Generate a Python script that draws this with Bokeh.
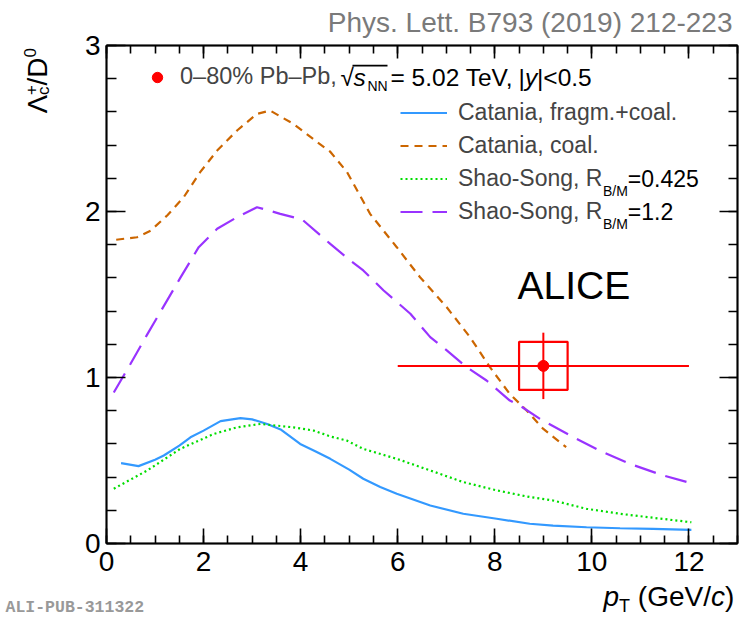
import math
from bokeh.plotting import figure
from bokeh.models import (Label, Legend, LegendItem, LinearAxis, SingleIntervalTicker,
                          BoxAnnotation, Range1d)
from bokeh.embed import file_html
from bokeh.resources import INLINE

# ---------------- data ----------------
# Catania, fragm.+coal.
cat_fc_x = [0.30, 0.66, 1.0, 1.18, 1.5, 1.73, 2.0, 2.35, 2.76, 3.0, 3.31, 3.6, 3.99, 4.3, 4.61, 5.0,
            5.29, 5.64, 5.98, 6.67, 7.35, 8.04, 8.72, 9.2, 9.89, 10.58, 11.26, 12.05]
cat_fc_y = [0.484, 0.466, 0.505, 0.53, 0.59, 0.64, 0.68, 0.737, 0.755, 0.748, 0.72, 0.685, 0.60, 0.556, 0.51, 0.445,
            0.39, 0.34, 0.30, 0.229, 0.179, 0.149, 0.119, 0.108, 0.098, 0.092, 0.088, 0.082]
# Catania, coal.
cat_c_x = [0.2, 0.63, 0.91, 1.25, 1.59, 1.93, 2.28, 2.69, 3.10, 3.37, 3.85, 4.34, 4.61, 4.95,
           5.43, 5.98, 6.46, 7.01, 7.49, 7.90, 8.31, 8.66, 9.0, 9.47]
cat_c_y = [1.83, 1.845, 1.885, 1.976, 2.086, 2.237, 2.367, 2.488, 2.588, 2.608, 2.528, 2.418, 2.36, 2.24,
           1.986, 1.785, 1.604, 1.423, 1.243, 1.062, 0.90, 0.80, 0.69, 0.58]
# Shao-Song, R_B/M = 0.425
ss1_x = [0.15, 0.84, 1.52, 2.21, 2.69, 3.17, 3.85, 4.27, 4.61, 4.95, 5.29, 5.98, 6.67, 7.35, 8.04,
         8.72, 9.20, 9.89, 10.58, 11.26, 12.05]
ss1_y = [0.33, 0.44, 0.57, 0.66, 0.70, 0.72, 0.70, 0.68, 0.645, 0.62, 0.57, 0.51, 0.44, 0.37, 0.32,
         0.28, 0.259, 0.209, 0.179, 0.155, 0.128]
# Shao-Song, R_B/M = 1.2
ss2_x = [0.15, 0.49, 0.84, 1.18, 1.52, 1.90, 2.28, 2.69, 3.10, 3.58, 4.03, 4.61, 5.02, 5.29, 5.71,
         6.26, 6.67, 7.01, 7.42, 7.83, 8.31, 8.52, 8.93, 9.55, 10.16, 10.78, 11.47, 12.05]
ss2_y = [0.91, 1.08, 1.26, 1.43, 1.60, 1.785, 1.896, 1.966, 2.026, 1.986, 1.952, 1.805, 1.705, 1.645, 1.524,
         1.384, 1.243, 1.163, 1.062, 0.982, 0.861, 0.83, 0.751, 0.651, 0.56, 0.48, 0.41, 0.363]
# ALICE data point, 0-80% Pb-Pb
pt = [9.0]
ratio = [1.07]
pt_lo = [6.0]
pt_hi = [12.0]
stat = [0.20]
syst = [0.145]
syst_halfwidth = [0.5]

x_lim = (0, 13)
y_lim = (0, 3)
x_ticks_interval = 2
y_ticks_interval = 1

# ---------------- layout ----------------
W, H = 740, 620
FL, FR, FT, FB = 106, 737, 45, 543          # plot box in canvas pixels
FONT = "Liberation Sans"
sx = (FR - FL) / (x_lim[1] - x_lim[0])
sy = (FB - FT) / (y_lim[1] - y_lim[0])
x_range = Range1d(x_lim[0] - FL / sx, x_lim[1] + (W - FR) / sx)
y_range = Range1d(y_lim[0] - (H - FB) / sy, y_lim[1] + FT / sy)

p = figure(width=W, height=H, x_range=x_range, y_range=y_range,
           output_backend="svg", toolbar_location=None, x_axis_type=None, y_axis_type=None,
           min_border=0)
p.outline_line_color = None
p.background_fill_color = "white"
p.border_fill_color = "white"


def make_axis(side, interval, nminor, tin, tmin, loc, bounds, labels):
    ax = LinearAxis(ticker=SingleIntervalTicker(interval=interval, num_minor_ticks=nminor),
                    fixed_location=loc, bounds=bounds)
    ax.axis_line_width = 2
    ax.axis_line_color = "black"
    ax.major_tick_line_width = 1.6
    ax.minor_tick_line_width = 1.6
    ax.major_tick_out = 0
    ax.minor_tick_out = 0
    ax.major_tick_in = tin
    ax.minor_tick_in = tmin
    if labels:
        ax.major_label_text_font = FONT
        ax.major_label_text_font_size = "28px"
        ax.major_label_text_color = "black"
        ax.major_label_standoff = 6 if side == "left" else 8
    else:
        ax.major_label_text_color = None
    p.add_layout(ax, side)
    return ax


make_axis("below", x_ticks_interval, 4, 15, 8, y_lim[0], x_lim, True)
make_axis("above", x_ticks_interval, 4, 13, 8, y_lim[1], x_lim, False)
make_axis("left", y_ticks_interval, 5, 19, 10, x_lim[0], y_lim, True)
make_axis("right", y_ticks_interval, 5, 18, 9, x_lim[1], y_lim, False)

frame_box = BoxAnnotation(left=x_lim[0], right=x_lim[1], bottom=y_lim[0], top=y_lim[1],
                          fill_alpha=0, line_color="black", line_width=2, level="overlay")
p.add_layout(frame_box)

# ---------------- curves ----------------
r_blue = p.line(cat_fc_x, cat_fc_y, line_color="#3399ff", line_width=2.2)
r_orng = p.line(cat_c_x, cat_c_y, line_color="#cc6600", line_width=2.2, line_dash="8 6")
r_grn = p.line(ss1_x, ss1_y, line_color="#00dd00", line_width=2.2, line_dash="2 3")
r_pur = p.line(ss2_x, ss2_y, line_color="#9933ff", line_width=2.2, line_dash="22 10")

# ---------------- data point ----------------
RED = "#ff0000"
p.segment(x0=pt_lo, y0=ratio, x1=pt_hi, y1=ratio, line_color=RED, line_width=2)
p.segment(x0=pt, y0=[r - s for r, s in zip(ratio, stat)], x1=pt,
          y1=[r + s for r, s in zip(ratio, stat)], line_color=RED, line_width=2)
p.quad(left=[x - w for x, w in zip(pt, syst_halfwidth)], right=[x + w for x, w in zip(pt, syst_halfwidth)],
       bottom=[r - s for r, s in zip(ratio, syst)], top=[r + s for r, s in zip(ratio, syst)],
       fill_alpha=0, line_color=RED, line_width=2.2)
r_pt = p.scatter(pt, ratio, size=11, fill_color=RED, line_color=RED, marker="circle")


# ---------------- text helper (canvas px from top-left; Y = vertical middle of text) ----------------
def lab(text, X, Y, size, align="left", style="normal", angle=0.0, color="black", font=FONT):
    L = Label(x=X, y=H - Y, x_units="screen", y_units="screen", text=text,
              text_font=font, text_font_size=f"{size}px", text_align=align,
              text_baseline="middle", text_font_style=style, angle=angle,
              text_color=color)
    p.add_layout(L)
    return L


# ---------------- legends ----------------
LEG1 = 23.5
LEG1B = 24.5
LEG = 23
ROW1 = 77
leg1 = Legend(items=[LegendItem(label="0\u201380% Pb\u2013Pb,", renderers=[r_pt])],
              location=(144, H - (ROW1 + 13)), glyph_width=26, glyph_height=26, label_height=26,
              label_standoff=10, padding=0, margin=0, spacing=0,
              label_text_font=FONT, label_text_font_size=f"{LEG1}px",
              border_line_alpha=0, background_fill_alpha=0)
p.add_layout(leg1)

# rest of first legend row:  sqrt(s_NN) = 5.02 TeV, |y|<0.5
lab("\u221a", 340, ROW1, LEG1B)
lab("s", 353, ROW1, LEG1B, style="italic")
lab("NN", 367, ROW1 + 8, 14)
over = BoxAnnotation(left=352, right=387, bottom=H - 66, top=H - 64.3,
                     left_units="screen", right_units="screen", top_units="screen", bottom_units="screen",
                     fill_color="black", fill_alpha=1, line_alpha=0)
p.add_layout(over)
lab("= 5.02 TeV,", 390, ROW1, LEG1B)
lab("|", 518, ROW1, LEG1B)
lab("y", 524.5, ROW1, LEG1B, style="italic")
lab("|<0.5", 536.5, ROW1, LEG1B)

leg2 = Legend(items=[LegendItem(label="Catania, fragm.+coal.", renderers=[r_blue]),
                     LegendItem(label="Catania, coal.", renderers=[r_orng]),
                     LegendItem(label="Shao-Song, R", renderers=[r_grn]),
                     LegendItem(label="Shao-Song, R", renderers=[r_pur])],
              location=(400, H - 228), glyph_width=47, glyph_height=33, label_height=33,
              label_standoff=11, padding=0, margin=0, spacing=0,
              label_text_font=FONT, label_text_font_size=f"{LEG}px",
              border_line_alpha=0, background_fill_alpha=0)
p.add_layout(leg2)
xr = 458 + 6.281 * LEG
for yc, val in [(178.5, "=0.425"), (211.5, "=1.2")]:
    lab("B/M", xr, yc + 12, 14)
    lab(val, xr + 1.778 * 14, yc, LEG)

# ALICE
lab("ALICE", 517, 285, 39)

# journal reference
lab("Phys. Lett. B793 (2019) 212-223", 732, 22, 28, align="right", color="#7a7a7a")
# ALI-PUB id
lab("ALI-PUB-311322", 5, 607, 16.5, style="bold", color="#999999", font="Liberation Mono")

# y title: Lambda_c^+ / D^0 (rotated, read bottom to top)
A = math.pi / 2
lab("\u039b", 36.5, 113, 28, angle=A)
lab("c", 43, 94.5, 17, angle=A)
lab("+", 30, 94.5, 17, angle=A)
lab("/D", 36.5, 85, 28, angle=A)
lab("0", 29, 57, 17, angle=A)

# x title: p_T (GeV/c)
XC = 596
xp = 603
lab("p", xp, XC, 28, style="italic")
lab("T", xp + 0.556 * 28, XC + 9, 18)
xg = xp + 0.556 * 28 + 0.611 * 18 + 0.278 * 28
lab("(GeV/", xg, XC, 28)
xc = xg + 2.612 * 28
lab("c", xc, XC, 28, style="italic")
lab(")", xc + 0.5 * 28, XC, 28)

open("out.html", "w").write(file_html(p, INLINE))
